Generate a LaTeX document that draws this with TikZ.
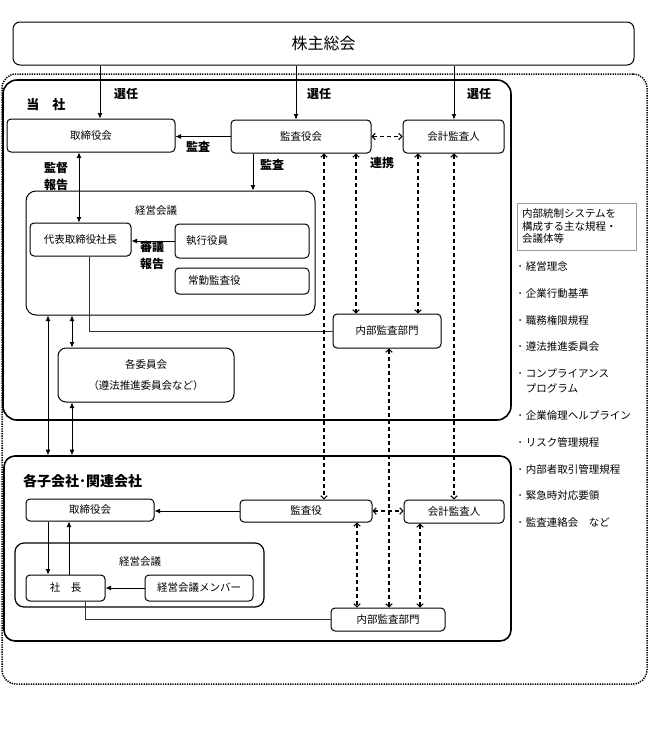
\documentclass[tikz,border=0pt]{standalone}
\usepackage{fontspec}
\setmainfont{Noto Sans CJK JP}
\usetikzlibrary{arrows.meta,calc}
\begin{document}
\begin{tikzpicture}[x=1pt,y=-1pt,
 box/.style={draw, line width=1pt, rounded corners=4pt, inner sep=0pt, font=\fontsize{10.5}{12}\selectfont, align=center},
 frame/.style={draw, line width=1.6pt, rounded corners=14pt, inner sep=0pt},
 lab/.style={font=\fontsize{12}{17}\selectfont\bfseries, inner sep=0pt, align=center},
 plain/.style={font=\fontsize{10.5}{12}\selectfont, inner sep=0pt},
 arr/.style={line width=0.9pt, -{Latex[length=5.5pt,width=5pt]}},
 darr/.style={line width=0.9pt, {Latex[length=5.5pt,width=5pt]}-{Latex[length=5.5pt,width=5pt]}},
 dash2/.style={line width=1.1pt, dash pattern=on 4pt off 3pt, {Straight Barb[length=3pt,width=6.5pt]}-{Straight Barb[length=3pt,width=6.5pt]}},
 thinline/.style={line width=0.6pt, draw=black!80},
 item/.style={anchor=west, inner sep=0pt, font=\fontsize{10.5}{15}\selectfont, align=left}]
\useasboundingbox (0,0) rectangle (651,740);

% frames
\node[frame, line width=1.5pt, dash pattern=on 1.3pt off 1.1pt, minimum width=645pt, minimum height=610pt] (outer) at (324.5,379) {};
\node[frame, minimum width=508pt, minimum height=340pt] (tosha) at (257,250) {};
\node[frame, rounded corners=11pt, minimum width=507pt, minimum height=185pt] (ko) at (257.5,548.5) {};

% top
\node[box, rounded corners=7pt, minimum width=621pt, minimum height=43pt, font=\fontsize{16}{18}\selectfont] (top) at (323.5,43.5) {株主総会};

% 当社
\node[lab, font=\fontsize{13}{15}\selectfont\bfseries] (tlab) at (46,105) {当　社};
\node[box, minimum width=168pt, minimum height=33pt] (tb) at (91,135.5) {取締役会};
\node[box, minimum width=140pt, minimum height=33pt] (kb) at (301,136.5) {監査役会};
\node[box, minimum width=101pt, minimum height=33pt] (ab) at (453.5,136.5) {会計監査人};
\node[box, rounded corners=10pt, minimum width=289pt, minimum height=124pt] (mm) at (170.5,253) {};
\node[plain] (mmlab) at (156,211) {経営会議};
\node[box, minimum width=101pt, minimum height=33pt] (pres) at (80.5,239.5) {代表取締役社長};
\node[box, minimum width=134pt, minimum height=34pt, text width=112pt, align=left] (exe) at (242,241) {執行役員};
\node[box, minimum width=134pt, minimum height=26pt, text width=108pt, align=left] (fa) at (242,281) {常勤監査役};
\node[box, minimum width=108pt, minimum height=34pt] (ia) at (387,331) {内部監査部門};
\node[box, rounded corners=8pt, minimum width=176pt, minimum height=54pt, font=\fontsize{10.5}{21}\selectfont] (cm) at (146,375) {各委員会\\（遵法推進委員会など）};

% 子会社
\node[lab, font=\fontsize{14}{16}\selectfont\bfseries, anchor=west] (klab) at (23,481) {各子会社･関連会社};
\node[box, minimum width=128pt, minimum height=22pt] (stb) at (90,510) {取締役会};
\node[box, minimum width=132pt, minimum height=22pt] (skb) at (306,511) {監査役};
\node[box, minimum width=100pt, minimum height=23pt] (sab) at (454,511.5) {会計監査人};
\node[box, line width=1.2pt, rounded corners=9pt, minimum width=249pt, minimum height=64pt] (smm) at (139.5,575) {};
\node[plain] (smmlab) at (140,562) {経営会議};
\node[box, minimum width=79pt, minimum height=26pt] (spres) at (65.5,588) {社　長};
\node[box, minimum width=108pt, minimum height=26pt] (smem) at (199,588) {経営会議メンバー};
\node[box, minimum width=114pt, minimum height=23pt] (sia) at (388,619.5) {内部監査部門};

% legend
\node[draw=black!40, line width=0.6pt, minimum width=119pt, minimum height=47pt, inner sep=0pt, text width=109pt, align=left, font=\fontsize{10.5}{12.5}\selectfont] (leg) at (576.5,226.5) {内部統制システムを\\構成する主な規程・\\会議体等};
\node[item] (i1) at (517.5,267) {･\hspace{3pt}経営理念};
\node[item] (i2) at (517.5,294) {･\hspace{3pt}企業行動基準};
\node[item] (i3) at (517.5,320) {･\hspace{3pt}職務権限規程};
\node[item] (i4) at (517.5,347) {･\hspace{3pt}遵法推進委員会};
\node[item] (i5) at (517.5,380.5) {･\hspace{3pt}コンプライアンス\\\hspace*{8.25pt}プログラム};
\node[item] (i6) at (517.5,415) {･\hspace{3pt}企業倫理ヘルプライン};
\node[item] (i7) at (517.5,442) {･\hspace{3pt}リスク管理規程};
\node[item] (i8) at (517.5,469) {･\hspace{3pt}内部者取引管理規程};
\node[item] (i9) at (517.5,496) {･\hspace{3pt}緊急時対応要領};
\node[item] (i10) at (517.5,523) {･\hspace{3pt}監査連絡会　など};

% labels
\node[lab] (l1) at (126,94) {選任};
\node[lab] (l2) at (319,94) {選任};
\node[lab] (l3) at (479,94) {選任};
\node[lab] (l4) at (198,147) {監査};
\node[lab] (l5) at (272,165) {監査};
\node[lab] (l6) at (56,176) {監督\\報告};
\node[lab] (l7) at (152,255) {審議\\報告};
\node[lab] (l8) at (382,163) {連携};

% column coordinates
\coordinate (xa) at (100,0);
\coordinate (xb) at (296,0);
\coordinate (xc) at (454,0);
\coordinate (xd) at (253,0);
\coordinate (xe) at (79,0);
\coordinate (xf) at (89,0);
\coordinate (xg) at (72,0);
\coordinate (xh) at (48,0);
\coordinate (xi) at (324,0);
\coordinate (xj) at (356,0);
\coordinate (xk) at (418,0);
\coordinate (xl) at (389,0);
\coordinate (xn) at (48,0);
\coordinate (xo) at (69,0);
\coordinate (xp) at (85,0);
\coordinate (xq) at (357,0);
\coordinate (xr) at (420,0);

% connectors
\draw[arr] (top.south -| xa) -- (tb.north -| xa);
\draw[arr] (top.south -| xb) -- (kb.north -| xb);
\draw[arr] (top.south -| xc) -- (ab.north -| xc);
\draw[arr] (kb.west) -- (kb.west -| tb.east);
\draw[arr] (kb.south -| xd) -- (mm.north -| xd);
\draw[darr] (tb.south -| xe) -- (pres.north -| xe);
\draw[arr] (exe.west) -- (exe.west -| pres.east);
\draw[thinline] (pres.south -| xf) |- (ia.west);
\draw[darr] (mm.south -| xg) -- (cm.north -| xg);
\draw[darr] (mm.south -| xh) -- (ko.north -| xh);
\draw[darr] (cm.south -| xg) -- (ko.north -| xg);
\draw[dash2] (kb.east) -- (kb.east -| ab.west);
\draw[dash2] (kb.south -| xj) -- (ia.north -| xj);
\draw[dash2] (ab.south -| xk) -- (ia.north -| xk);
\draw[dash2] (kb.south -| xi) -- (skb.north -| xi);
\draw[dash2] (ab.south -| xc) -- (sab.north -| xc);
\draw[dash2] (ia.south -| xl) -- (sia.north -| xl);
\draw[arr] (skb.west) -- (skb.west -| stb.east);
\draw[dash2] (skb.east) -- (skb.east -| sab.west);
\draw[arr] (stb.south -| xn) -- (spres.north -| xn);
\draw[arr] (spres.north -| xo) -- (stb.south -| xo);
\draw[arr] (smem.west) -- (smem.west -| spres.east);
\draw[thinline] (spres.south -| xp) |- (sia.west);
\draw[dash2] (skb.south -| xq) -- (sia.north -| xq);
\draw[dash2] (sab.south -| xr) -- (sia.north -| xr);
\end{tikzpicture}
\end{document}
